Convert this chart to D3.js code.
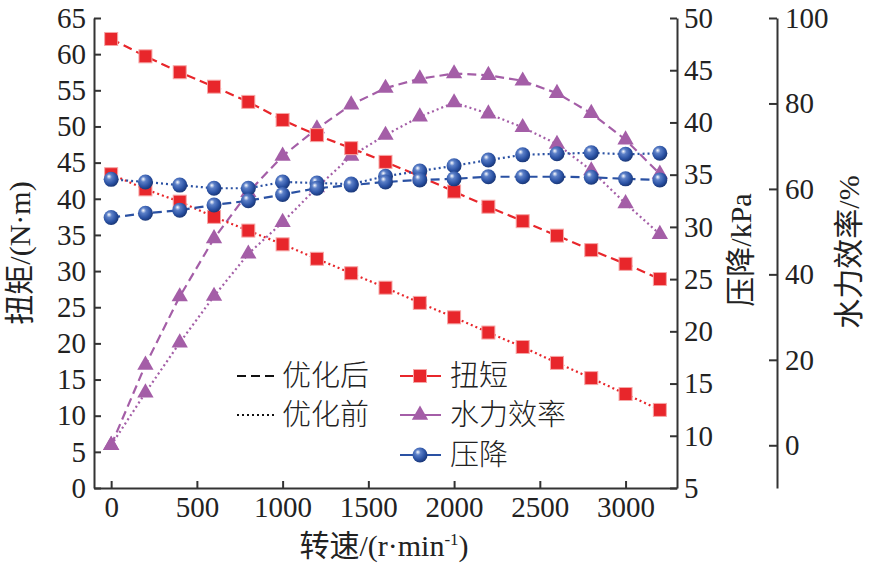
<!DOCTYPE html>
<html>
<head>
<meta charset="utf-8">
<script src="https://cdn.jsdelivr.net/npm/d3@7"></script>
<style>
  body { margin: 0; background: #fff; }
  svg { display: block; }
  .axis path, .axis line { stroke: #333; stroke-width: 2; }
  .axis text { font-family: "Liberation Serif", "Times New Roman", serif; font-size: 29px; fill: #222; }
</style>
</head>
<body>
<svg id="chart" width="870" height="569"></svg>
<script>
// 数据
const speed = [0, 200, 400, 600, 800, 1000, 1200, 1400, 1600, 1800, 2000, 2200, 2400, 2600, 2800, 3000, 3200];
const torqueAfter = [62.1, 59.7, 57.5, 55.5, 53.4, 50.9, 48.8, 47.0, 45.1, 43.1, 41.0, 38.9, 36.9, 34.9, 32.9, 31.0, 28.9];
const torqueBefore = [43.4, 41.3, 39.6, 37.5, 35.6, 33.7, 31.7, 29.7, 27.7, 25.6, 23.6, 21.5, 19.5, 17.3, 15.2, 13.0, 10.8];
const pressureAfter = [30.9, 31.3, 31.6, 32.1, 32.5, 33.1, 33.7, 34.0, 34.3, 34.5, 34.6, 34.8, 34.8, 34.8, 34.75, 34.6, 34.5];
const pressureBefore = [34.55, 34.3, 34.0, 33.7, 33.7, 34.3, 34.2, 34.1, 34.85, 35.35, 35.85, 36.4, 36.9, 37.0, 37.1, 36.95, 37.05];
const effAfter = [0, 18.8, 34.8, 48.4, 59.2, 67.7, 74.1, 79.7, 83.6, 85.8, 87.0, 86.6, 85.3, 82.4, 77.7, 71.5, 63.5];
const effBefore = [0, 12.3, 24.0, 34.9, 44.8, 52.2, 60.3, 67.7, 72.6, 76.9, 80.2, 77.6, 74.4, 70.5, 64.3, 56.6, 49.4];

const xTicks = [0, 500, 1000, 1500, 2000, 2500, 3000];
const torqueTicks = d3.range(0, 66, 5);
const pressureTicks = d3.range(5, 51, 5);
const effTicks = [0, 20, 40, 60, 80, 100];

const RED = "#e8262b", PURPLE = "#a45ea7", BLUE = "#2a51a3";
const DASH = "9,5", DOT = "2,3";

const svg = d3.select("#chart");
const plotTop = 18, plotBottom = 488, plotLeft = 94, plotRight = 677, axis3 = 777;

const x = d3.scaleLinear().domain([-100, 3300]).range([plotLeft, plotRight]);
const yT = d3.scaleLinear().domain([0, 65]).range([plotBottom, plotTop]);
const yP = d3.scaleLinear().domain([5, 50]).range([plotBottom, plotTop]);
const yE = d3.scaleLinear().domain([-10, 100]).range([plotBottom, plotTop]);
const fmt = d3.format("d");

// 圆点渐变
const grad = svg.append("defs").append("radialGradient")
    .attr("id", "ball").attr("cx", "40%").attr("cy", "38%").attr("r", "60%")
    .attr("fx", "35%").attr("fy", "30%");
grad.append("stop").attr("offset", "0%").attr("stop-color", "#ffffff");
grad.append("stop").attr("offset", "30%").attr("stop-color", "#5c80c8");
grad.append("stop").attr("offset", "75%").attr("stop-color", "#2a51a3");
grad.append("stop").attr("offset", "100%").attr("stop-color", "#1c3a7c");

// 坐标轴
svg.append("g").attr("class", "axis")
    .attr("transform", `translate(0,${plotBottom})`)
    .call(d3.axisBottom(x).tickValues(xTicks).tickFormat(fmt).tickSize(-7).tickSizeOuter(0).tickPadding(8));

svg.append("g").attr("class", "axis")
    .attr("transform", `translate(${plotLeft},0)`)
    .call(d3.axisLeft(yT).tickValues(torqueTicks).tickFormat(fmt).tickSize(-7).tickSizeOuter(0).tickPadding(8));

svg.append("g").attr("class", "axis")
    .attr("transform", `translate(${plotRight},0)`)
    .call(d3.axisRight(yP).tickValues(pressureTicks).tickFormat(fmt).tickSize(-7).tickSizeOuter(0).tickPadding(7));

svg.append("g").attr("class", "axis")
    .attr("transform", `translate(${axis3},0)`)
    .call(d3.axisRight(yE).tickValues(effTicks).tickFormat(fmt).tickSize(-8).tickSizeOuter(0).tickPadding(8));

// 轴标题
const titleFont = "'Liberation Serif', 'Noto Sans CJK SC', serif";
svg.append("text")
    .attr("transform", "translate(30,253) rotate(-90)")
    .attr("text-anchor", "middle")
    .style("font-family", titleFont).style("font-size", "30px").attr("fill", "#222")
    .text("扭矩/(N·m)");

svg.append("text")
    .attr("transform", "translate(751,250) rotate(-90)")
    .attr("text-anchor", "middle")
    .style("font-family", titleFont).style("font-size", "30px").attr("fill", "#222")
    .text("压降/kPa");

svg.append("text")
    .attr("transform", "translate(859,252) rotate(-90)")
    .attr("text-anchor", "middle")
    .style("font-family", titleFont).style("font-size", "30px").attr("fill", "#222")
    .text("水力效率/%");

const xt = svg.append("text")
    .attr("x", 384).attr("y", 556)
    .attr("text-anchor", "middle")
    .style("font-family", titleFont).style("font-size", "30px").attr("fill", "#222");
xt.append("tspan").text("转速/(r·min");
xt.append("tspan").attr("dy", -11).style("font-size", "17px").text("-1");
xt.append("tspan").attr("dy", 11).text(")");

// 曲线
function drawSeries(values, yScale, color, dash, marker) {
    const pts = speed.map((s, i) => [s, values[i]]);
    const line = d3.line().x(d => x(d[0])).y(d => yScale(d[1]));
    svg.append("path")
        .attr("d", line(pts))
        .attr("fill", "none")
        .attr("stroke", color)
        .attr("stroke-width", 2.2)
        .attr("stroke-dasharray", dash);
    drawMarkers(svg.append("g"), pts.map(d => [x(d[0]), yScale(d[1])]), marker);
}

function drawMarkers(g, pts, marker) {
    if (marker === "square") {
        g.selectAll("rect").data(pts).join("rect")
            .attr("x", d => d[0] - 6.5).attr("y", d => d[1] - 6.5)
            .attr("width", 13).attr("height", 13)
            .attr("fill", RED).attr("stroke", "#f6a6a6").attr("stroke-width", 1);
    } else if (marker === "triangle") {
        g.selectAll("path").data(pts).join("path")
            .attr("d", d3.symbol(d3.symbolTriangle, 115))
            .attr("transform", d => `translate(${d[0]},${d[1]})`)
            .attr("fill", PURPLE);
    } else {
        g.selectAll("circle").data(pts).join("circle")
            .attr("cx", d => d[0]).attr("cy", d => d[1]).attr("r", 7.5)
            .attr("fill", "url(#ball)");
    }
}

drawSeries(effBefore, yE, PURPLE, DOT, "triangle");
drawSeries(effAfter, yE, PURPLE, DASH, "triangle");
drawSeries(torqueBefore, yT, RED, DOT, "square");
drawSeries(torqueAfter, yT, RED, DASH, "square");
drawSeries(pressureBefore, yP, BLUE, DOT, "circle");
drawSeries(pressureAfter, yP, BLUE, DASH, "circle");

// 图例
const legendFont = "'Noto Sans CJK SC', sans-serif";
const lineLegend = [
    { label: "优化后", dash: DASH, y: 376 },
    { label: "优化前", dash: DOT, y: 415 }
];
const seriesLegend = [
    { label: "扭短", color: RED, marker: "square", y: 376 },
    { label: "水力效率", color: PURPLE, marker: "triangle", y: 415 },
    { label: "压降", color: BLUE, marker: "circle", y: 455 }
];

const lg = svg.append("g");
lineLegend.forEach(d => {
    lg.append("line")
        .attr("x1", 237).attr("x2", 277).attr("y1", d.y).attr("y2", d.y)
        .attr("stroke", "#111").attr("stroke-width", 2).attr("stroke-dasharray", d.dash);
    lg.append("text")
        .attr("x", 282).attr("y", d.y).attr("dy", "0.36em")
        .style("font-family", legendFont).style("font-size", "29px").style("font-weight", 300).attr("fill", "#222")
        .text(d.label);
});
seriesLegend.forEach(d => {
    lg.append("line")
        .attr("x1", 400).attr("x2", 441).attr("y1", d.y).attr("y2", d.y)
        .attr("stroke", d.color).attr("stroke-width", 2.2);
    drawMarkers(lg.append("g"), [[420, d.y]], d.marker);
    lg.append("text")
        .attr("x", 450).attr("y", d.y).attr("dy", "0.36em")
        .style("font-family", legendFont).style("font-size", "29px").style("font-weight", 300).attr("fill", "#222")
        .text(d.label);
});
</script>
</body>
</html>
